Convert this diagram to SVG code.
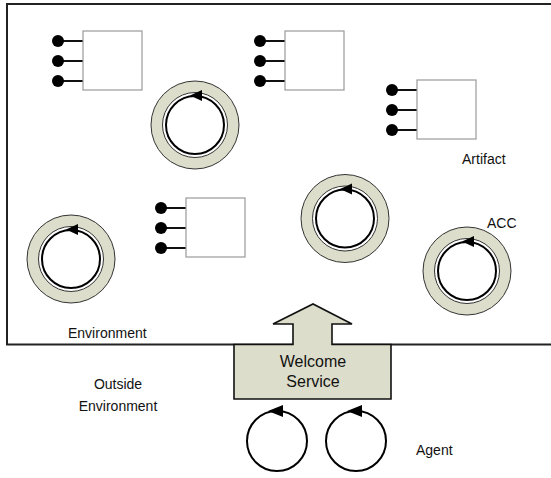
<svg xmlns="http://www.w3.org/2000/svg" width="551" height="478" viewBox="0 0 551 478">
<style>
text{font-family:"Liberation Sans",Arial,sans-serif;font-size:14px;fill:#111}
.box{fill:#fff;stroke:#999;stroke-width:1.2}
.pin{stroke:#111;stroke-width:2}
.dot{fill:#000}
.ring{fill:#DDDDCB;stroke:#333;stroke-width:1}
.inner{fill:#fff;stroke:#333;stroke-width:1}
.loop{fill:none;stroke:#000;stroke-width:2}
.env{fill:none;stroke:#222;stroke-width:2}
.ws{fill:#DDDDCB;stroke:#111;stroke-width:1.6;stroke-linejoin:miter}
</style>
<defs>
<g id="pins">
<line class="pin" x1="0" y1="10" x2="25" y2="10"/>
<line class="pin" x1="0" y1="30" x2="25" y2="30"/>
<line class="pin" x1="0" y1="50" x2="25" y2="50"/>
<circle class="dot" cx="0" cy="10" r="6"/>
<circle class="dot" cx="0" cy="30" r="6"/>
<circle class="dot" cx="0" cy="50" r="6"/>
<rect class="box" x="25" y="0" width="59" height="59"/>
</g>
<g id="acc">
<circle class="ring" cx="0" cy="0" r="44"/>
<circle class="inner" cx="0" cy="0" r="32.5"/>
<circle class="loop" cx="0" cy="0" r="29"/>
<polygon points="-5,-29.5 7,-35 7,-24" fill="#000"/>
</g>
<g id="agent">
<circle class="loop" cx="0" cy="0" r="30"/>
<polygon points="-9,-30 6,-36 6,-24" fill="#000"/>
</g>
</defs>
<g id="environment">
<path class="env" d="M552,4 H7 V344.5 H552"/>
<text x="68" y="338">Environment</text>
</g>
<g id="artifact1"><use href="#pins" x="58" y="31"/></g>
<g id="artifact2"><use href="#pins" x="260" y="31"/></g>
<g id="artifact3"><use href="#pins" x="392" y="80"/><text x="462" y="164">Artifact</text></g>
<g id="artifact4"><use href="#pins" x="161" y="198"/></g>
<g id="acc1"><use href="#acc" x="195" y="125"/></g>
<g id="acc2"><use href="#acc" x="345" y="218.5"/></g>
<g id="acc3"><use href="#acc" x="71" y="259"/></g>
<g id="acc4"><use href="#acc" x="467" y="271"/><text x="487" y="228">ACC</text></g>
<g id="welcome-service">
<path class="ws" d="M234,399 V344.5 H293 V324 H273 L313,304 L352,324 H332 V344.5 H391 V399 Z"/>
<text x="313" y="367" text-anchor="middle" style="font-size:16px">Welcome</text>
<text x="313" y="387" text-anchor="middle" style="font-size:16px">Service</text>
</g>
<g id="outside">
<text x="118" y="389" text-anchor="middle">Outside</text>
<text x="118" y="411" text-anchor="middle">Environment</text>
</g>
<g id="agents">
<use href="#agent" x="277" y="441"/>
<use href="#agent" x="356" y="441"/>
<text x="416" y="455">Agent</text>
</g>
<g id="connectors"></g>
</svg>
